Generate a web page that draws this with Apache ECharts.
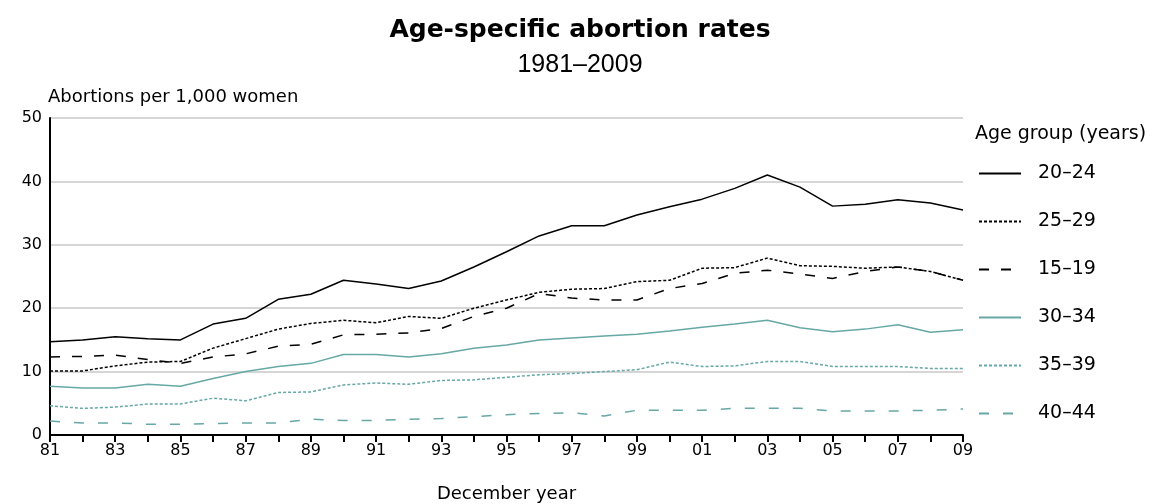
<!DOCTYPE html>
<html><head><meta charset="utf-8">
<script src="https://cdn.jsdelivr.net/npm/echarts@6/dist/echarts.min.js"></script>
<style>html,body{margin:0;padding:0;background:#fff}#c{width:1160px;height:504px}</style>
</head><body><div id="c"></div>
<script>
const years = ['81','82','83','84','85','86','87','88','89','90','91','92','93','94','95','96','97','98','99','00','01','02','03','04','05','06','07','08','09'];
const age20_24 = [14.7,15.0,15.5,15.2,15.0,17.5,18.4,21.4,22.2,24.4,23.8,23.1,24.3,26.5,28.9,31.4,33.0,33.0,34.7,36.0,37.2,38.9,41.0,39.1,36.1,36.4,37.1,36.6,35.5];
const age25_29 = [10.1,10.1,10.9,11.5,11.6,13.7,15.2,16.7,17.6,18.1,17.7,18.7,18.4,20.0,21.3,22.5,23.0,23.1,24.2,24.4,26.3,26.4,27.9,26.7,26.6,26.3,26.5,25.8,24.4];
const age15_19 = [12.3,12.4,12.6,11.9,11.3,12.3,12.8,14.0,14.3,15.8,15.9,16.1,16.8,18.7,20.0,22.3,21.6,21.3,21.3,23.1,23.9,25.5,26.0,25.4,24.7,25.8,26.5,25.8,24.4];
const age30_34 = [7.7,7.4,7.4,8.0,7.7,8.9,10.0,10.8,11.3,12.7,12.7,12.3,12.8,13.7,14.2,15.0,15.3,15.6,15.9,16.4,17.0,17.5,18.1,16.9,16.3,16.7,17.4,16.2,16.6];
const age35_39 = [4.6,4.2,4.4,4.9,4.9,5.8,5.4,6.7,6.8,7.9,8.2,8.0,8.6,8.7,9.1,9.5,9.7,10.0,10.3,11.5,10.8,10.9,11.6,11.6,10.8,10.8,10.8,10.5,10.5];
const age40_44 = [2.2,1.9,1.9,1.7,1.7,1.8,1.9,1.9,2.5,2.3,2.3,2.5,2.6,2.9,3.2,3.4,3.5,3.0,3.9,3.9,3.9,4.2,4.2,4.2,3.8,3.8,3.8,3.9,4.1];
const yTicks = [0,10,20,30,40,50];

const BLACK = '#000000', TEAL = '#66a8a5';
const FONT = 'DejaVu Sans';
function mk(name, data, color, type) {
  return { name, type: 'line', data, symbol: 'none', silent: true,
    lineStyle: { color, width: 1.5, type }, itemStyle: { color } };
}
const chart = echarts.init(document.getElementById('c'), null, { renderer: 'canvas' });
chart.setOption({
  animation: false,
  backgroundColor: '#ffffff',
  title: [
    { text: 'Age-specific abortion rates', left: 'center', top: 13,
      textStyle: { fontFamily: FONT, fontWeight: 'bold', fontSize: 25, color: '#000' } },
    { text: '1981–2009', left: 'center', top: 48,
      textStyle: { fontFamily: 'Liberation Sans', fontWeight: 'normal', fontSize: 25, color: '#000' } },
    { text: 'Age group (years)', left: 970, top: 120,
      textStyle: { fontFamily: FONT, fontWeight: 'normal', fontSize: 19, color: '#000' } }
  ],
  grid: { left: 50, right: 197, top: 118, bottom: 69, containLabel: false, outerBoundsMode: 'none' },
  legend: {
    orient: 'vertical', left: 973, top: 159,
    itemWidth: 42, itemHeight: 14, itemGap: 29,
    itemStyle: { opacity: 0 },
    textStyle: { fontFamily: FONT, fontSize: 19, color: '#000', padding: [0, 0, 0, 12] },
    data: ['20–24','25–29','15–19','30–34','35–39','40–44']
  },
  xAxis: {
    type: 'category', data: years, boundaryGap: false,
    name: 'December year', nameLocation: 'middle', nameGap: 50,
    nameTextStyle: { fontFamily: FONT, fontSize: 18, color: '#000' },
    axisLine: { lineStyle: { color: '#000', width: 2 } },
    axisTick: { interval: 0, length: 7, lineStyle: { color: '#000', width: 2 } },
    axisLabel: { interval: 1, fontFamily: FONT, fontSize: 16, color: '#000', margin: 8 },
    splitLine: { show: false }
  },
  yAxis: {
    type: 'value', min: 0, max: 50, interval: 10,
    name: 'Abortions per 1,000 women', nameLocation: 'end', nameGap: 12,
    nameTextStyle: { fontFamily: FONT, fontSize: 18, color: '#000', align: 'left', padding: [0, 0, 0, -2] },
    axisLine: { show: true, lineStyle: { color: '#000', width: 2 } },
    axisTick: { show: false },
    axisLabel: { fontFamily: FONT, fontSize: 16, color: '#000', margin: 8,
      formatter: v => yTicks.includes(v) ? String(v) : '' },
    splitLine: { lineStyle: { color: '#c8c8c8', width: 1.5 } }
  },
  series: [
    mk('20–24', age20_24, BLACK, 'solid'),
    mk('25–29', age25_29, BLACK, [3, 2]),
    mk('15–19', age15_19, BLACK, [10, 12]),
    mk('30–34', age30_34, TEAL, 'solid'),
    mk('35–39', age35_39, TEAL, [3, 2]),
    mk('40–44', age40_44, TEAL, [10, 14])
  ]
});
</script></body></html>
